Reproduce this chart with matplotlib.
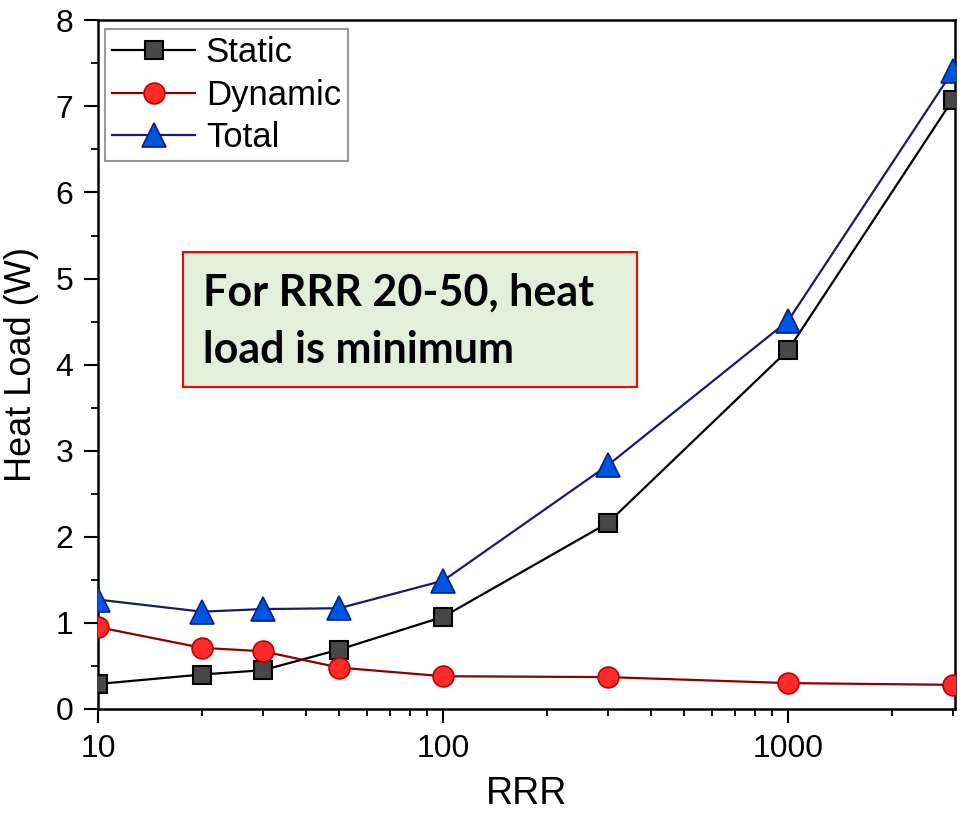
import numpy as np
import matplotlib.pyplot as plt
from matplotlib.patches import Rectangle
from matplotlib.ticker import MultipleLocator, LogLocator, FixedLocator, NullFormatter

plt.rcParams['font.family'] = ['Liberation Sans', 'DejaVu Sans']

rrr = [10, 20, 30, 50, 100, 300, 1000, 3000]
static = [0.29, 0.40, 0.45, 0.69, 1.07, 2.16, 4.17, 7.08]
dynamic = [0.95, 0.71, 0.67, 0.48, 0.38, 0.37, 0.30, 0.28]
total = [1.27, 1.13, 1.16, 1.17, 1.49, 2.83, 4.51, 7.41]
note_lines = ['For RRR 20-50, heat', 'load is minimum']

fig = plt.figure(figsize=(9.62, 8.13), dpi=100)
ax = fig.add_axes([0.102, 0.128, 0.891, 0.847])

ax.plot(rrr, static, color='black', lw=1.6, marker='s', ms=13,
        mfc='#474747', mec='black', mew=1.5, label='Static', zorder=3)
ax.plot(rrr, dynamic, color='#8B0000', lw=1.6, marker='o', ms=15,
        mfc='#FF2A2A', mec='#C00000', mew=1.2, label='Dynamic', zorder=3)
ax.plot(rrr, total, color='#1A1A6E', lw=1.6, marker='^', ms=17,
        mfc='#0055E0', mec='#00208A', mew=1.2, label='Total', zorder=3)

ax.set_xscale('log')
ax.set_xlim(10, 3050)
ax.set_ylim(0, 8)
ax.xaxis.set_major_locator(FixedLocator([10, 100, 1000]))
ax.set_xticklabels(['10', '100', '1000'])
ax.xaxis.set_minor_locator(LogLocator(base=10, subs=np.arange(2, 10)))
ax.xaxis.set_minor_formatter(NullFormatter())
ax.yaxis.set_major_locator(MultipleLocator(1))
ax.yaxis.set_minor_locator(MultipleLocator(0.5))

ax.tick_params(which='major', direction='out', length=10, width=1.5, labelsize=23, pad=8)
ax.tick_params(which='minor', direction='out', length=5, width=1.3)
for s in ax.spines.values():
    s.set_linewidth(1.8)

ax.set_xlabel('RRR', fontsize=27, labelpad=9)
ax.set_ylabel('Heat Load (W)', fontsize=26, labelpad=12)

leg = ax.legend(loc='upper left', bbox_to_anchor=(0.0, 0.997), fontsize=25,
                frameon=True, fancybox=False, edgecolor='#808080',
                handlelength=2.4, handletextpad=0.3, labelspacing=0.27,
                borderpad=0.2, borderaxespad=0.2)
leg.get_frame().set_linewidth(1.5)

# annotation box
ax.add_patch(Rectangle((0.099, 0.467), 0.530, 0.196, transform=ax.transAxes,
                       fc='#E2EFDA', ec='#FF0000', lw=1.5, zorder=4))
for txt, yb in zip(note_lines, [0.586, 0.502]):
    ax.text(0.1225, yb, txt, transform=ax.transAxes, fontsize=31,
            fontweight='bold', family=['Lato', 'DejaVu Sans'],
            va='baseline', ha='left', zorder=5)

fig.savefig('out.png', dpi=100)
